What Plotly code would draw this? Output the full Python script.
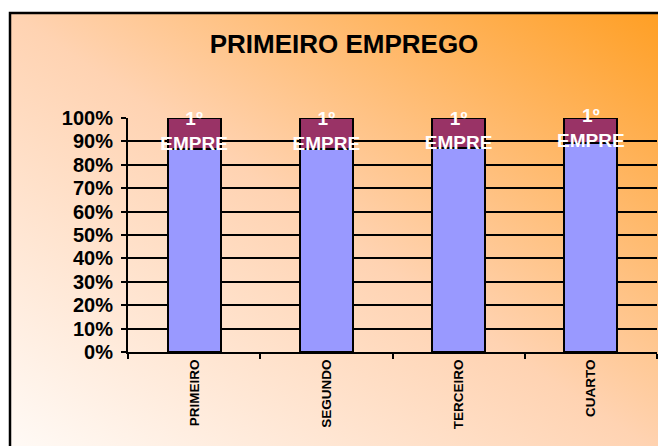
import base64
import plotly.graph_objects as go

categories = ["PRIMEIRO", "SEGUNDO", "TERCEIRO", "CUARTO"]
outros = [86.8, 86.8, 87.2, 89.3]
primeiro_emprego = [13.2, 13.2, 12.8, 10.7]
bar_label = "1º<br>EMPRE"
tick_vals = [0, 10, 20, 30, 40, 50, 60, 70, 80, 90, 100]
tick_text = [f"{v}%" for v in tick_vals]

BLUE = "#9999FF"
PURPLE = "#993366"

# page offset of the body (browser default margin)
OFF = 8

svg = (
    '<svg xmlns="http://www.w3.org/2000/svg" width="656" height="433" '
    'viewBox="0 0 656 433" preserveAspectRatio="none">'
    '<defs><linearGradient id="g" x1="0" y1="1" x2="1" y2="0">'
    '<stop offset="0" stop-color="#FFFDFB"/>'
    '<stop offset="0.5" stop-color="#FFD3B2"/>'
    '<stop offset="1" stop-color="#FF9C1C"/>'
    '</linearGradient></defs>'
    '<rect width="656" height="433" fill="url(#g)"/></svg>'
)
bg_src = "data:image/svg+xml;base64," + base64.b64encode(svg.encode()).decode()

fig = go.Figure()
fig.add_trace(go.Bar(
    x=categories, y=outros, name="Outros",
    marker=dict(color=BLUE, line=dict(color="black", width=2)),
    width=0.4, hoverinfo="skip",
))
fig.add_trace(go.Bar(
    x=categories, y=primeiro_emprego, name="1º EMPREGO",
    marker=dict(color=PURPLE, line=dict(color="black", width=2)),
    width=0.4, hoverinfo="skip",
))
label_y = [o + p / 2 + 0.3 for o, p in zip(outros, primeiro_emprego)]
fig.add_trace(go.Scatter(
    x=categories, y=label_y, mode="text", text=[bar_label] * len(categories),
    textfont=dict(family="Arial, Liberation Sans", size=19, color="white", weight="bold"),
    cliponaxis=False, hoverinfo="skip", showlegend=False,
))

W, H = 666, 446
# plot area in reference screen pixels: x 128..657, y 118..352
L = 128 - OFF
T = 118 - OFF
R = W - (657 - OFF)
B = H - (352 - OFF)
pw, ph = W - L - R, H - T - B

def px_to_paper_x(px):
    return (px - OFF - L) / pw

def py_to_paper_y(py):
    return (H - B - (py - OFF)) / ph

fig.update_layout(
    width=W, height=H,
    margin=dict(l=L, r=R, t=T, b=B),
    paper_bgcolor="white",
    plot_bgcolor="rgba(0,0,0,0)",
    barmode="stack",
    showlegend=False,
    font=dict(family="Arial, Liberation Sans", color="black"),
    title=dict(
        text="<b>PRIMEIRO EMPREGO</b>",
        x=(344 - OFF) / W, xanchor="center",
        y=1 - (44 - OFF) / H, yanchor="middle",
        font=dict(size=26, color="black"),
    ),
    xaxis=dict(
        type="category",
        showline=True, linecolor="black", linewidth=2,
        ticks="outside", ticklen=5, tickwidth=2, tickcolor="black",
        tickson="boundaries",
        tickangle=-90,
        tickfont=dict(size=13.5, weight="bold"),
        showgrid=False,
        range=[-0.5, 3.5],
    ),
    yaxis=dict(
        range=[0, 100],
        tickvals=tick_vals, ticktext=tick_text,
        showline=True, linecolor="black", linewidth=2,
        ticks="outside", ticklen=5, tickwidth=2, tickcolor="black",
        ticklabelstandoff=4,
        tickfont=dict(size=20, weight="bold"),
        showgrid=True, gridcolor="black", gridwidth=2,
        zeroline=False,
    ),
    images=[dict(
        source=bg_src, xref="paper", yref="paper",
        x=px_to_paper_x(10), y=py_to_paper_y(13),
        sizex=(W + 20) / pw, sizey=(H + 20) / ph,
        xanchor="left", yanchor="top", sizing="stretch", layer="below",
    )],
    shapes=[dict(
        type="rect", xref="paper", yref="paper", layer="below",
        x0=px_to_paper_x(10), y0=py_to_paper_y(H + 40),
        x1=px_to_paper_x(W + 40), y1=py_to_paper_y(13),
        line=dict(color="black", width=2.5), fillcolor="rgba(0,0,0,0)",
    )],
)

fig.write_html("out.html")
